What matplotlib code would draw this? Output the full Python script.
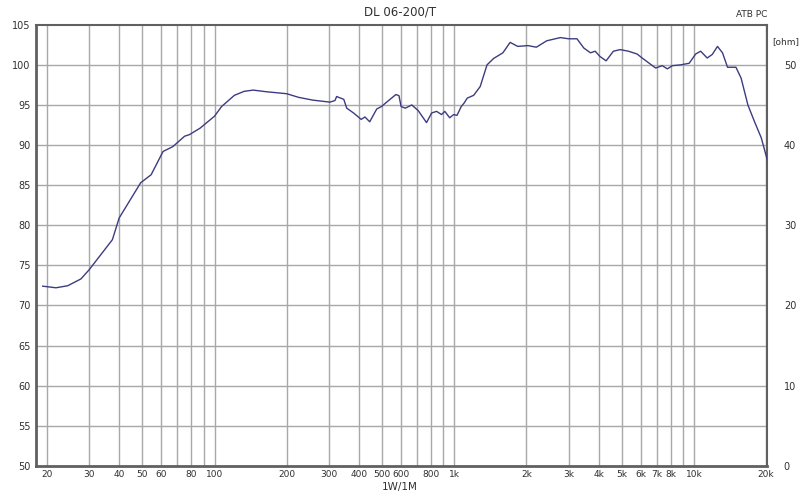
import matplotlib.pyplot as plt
from matplotlib.ticker import FixedLocator, NullLocator

# Frequenzgang DL 06-200/T (Hz, dB)
freq_hz = [19.2, 21.8, 24.4, 27.7, 30, 37.5, 40, 49.2, 54.4, 61, 67, 75, 78.6, 87,
           100, 107, 121, 133, 145, 164, 200, 224, 257, 303, 318, 323, 346, 356,
           380, 409, 424, 444, 475, 497, 520, 571, 588, 600, 625, 665, 707, 766,
           805, 844, 885, 913, 957, 994, 1027, 1069, 1097, 1133, 1205, 1283, 1370,
           1460, 1595, 1710, 1840, 2030, 2200, 2430, 2770, 3000, 3250, 3470, 3700,
           3870, 4050, 4300, 4610, 4920, 5330, 5790, 6080, 6920, 7370, 7740, 8130,
           8810, 9550, 10160, 10660, 11350, 11920, 12530, 13150, 13800, 14960,
           15720, 16780, 17890, 19080, 20380]
spl_db = [72.4, 72.2, 72.45, 73.3, 74.45, 78.2, 80.9, 85.3, 86.3, 89.2, 89.8, 91.1, 91.3, 92.1,
          93.6, 94.8, 96.2, 96.7, 96.85, 96.65, 96.4, 95.95, 95.6, 95.35, 95.55, 96.05, 95.7, 94.6,
          94.0, 93.2, 93.5, 92.9, 94.5, 94.8, 95.3, 96.3, 96.15, 94.8, 94.6, 95.0, 94.3, 92.8,
          94.0, 94.2, 93.8, 94.2, 93.4, 93.8, 93.7, 94.8, 95.2, 95.85, 96.2, 97.3, 100.0,
          100.8, 101.5, 102.8, 102.3, 102.4, 102.2, 103.0, 103.4, 103.25, 103.25, 102.1, 101.5,
          101.7, 101.05, 100.5, 101.7, 101.9, 101.7, 101.35, 100.85, 99.6, 99.9, 99.5, 99.9,
          100.0, 100.2, 101.35, 101.7, 100.85, 101.3, 102.3, 101.5, 99.7, 99.7,
          98.35, 95.0, 92.9, 90.9, 87.75]

# Achsenbeschriftung
grid_freqs = [20, 30, 40, 50, 60, 70, 80, 90, 100, 200, 300, 400, 500, 600, 700, 800, 900,
              1000, 2000, 3000, 4000, 5000, 6000, 7000, 8000, 9000, 10000, 20000]
label_freqs = [20, 30, 40, 50, 60, 80, 100, 200, 300, 400, 500, 600, 800, 1000,
               2000, 3000, 4000, 5000, 6000, 7000, 8000, 10000, 20000]
label_texts = ['20', '30', '40', '50', '60', '80', '100', '200', '300', '400', '500', '600',
               '800', '1k', '2k', '3k', '4k', '5k', '6k', '7k', '8k', '10k', '20k']
db_ticks = [50, 55, 60, 65, 70, 75, 80, 85, 90, 95, 100, 105]
ohm_ticks = [0, 10, 20, 30, 40, 50]

grid_color = '#a8a8a8'
frame_color = '#606060'
text_color = '#303030'

fig = plt.figure(figsize=(8, 4.95), dpi=100)
ax = fig.add_axes([0.045, 0.059, 0.914, 0.891])

ax.plot(freq_hz, spl_db, color='#3c3c80', linewidth=1.0, zorder=3)

ax.set_xscale('log')
ax.set_xlim(18, 20200)
ax.set_ylim(50, 105)

# Gitter von Hand, damit nur die gewuenschten Linien erscheinen
for f in grid_freqs:
    ax.axvline(f, color=grid_color, linewidth=1.0, zorder=1)
for d in db_ticks[1:-1]:
    ax.axhline(d, color=grid_color, linewidth=1.0, zorder=1)

ax.xaxis.set_major_locator(FixedLocator(label_freqs))
ax.xaxis.set_minor_locator(NullLocator())
ax.set_xticklabels(label_texts)
ax.set_yticks(db_ticks)
ax.tick_params(axis='x', length=0, labelsize=6.5, colors=text_color, pad=3)
ax.tick_params(axis='y', length=0, labelsize=7, colors=text_color, pad=4)

for side in ['left', 'bottom']:
    ax.spines[side].set_color(frame_color)
    ax.spines[side].set_linewidth(2.0)
for side in ['top', 'right']:
    ax.spines[side].set_color(frame_color)
    ax.spines[side].set_linewidth(1.5)

# Rechte Achse: Impedanz
ax2 = ax.twinx()
ax2.set_ylim(0, 55)
ax2.set_yticks(ohm_ticks)
ax2.tick_params(axis='y', length=0, labelsize=7, colors=text_color, pad=12)
for side in ax2.spines:
    ax2.spines[side].set_visible(False)

fig.text(0.5, 0.975, 'DL 06-200/T', ha='center', va='center', fontsize=8.5, color=text_color)
fig.text(0.959, 0.970, 'ATB PC', ha='right', va='center', fontsize=6.5, color=text_color)
fig.text(0.982, 0.915, '[ohm]', ha='center', va='center', fontsize=6.5, color=text_color)
fig.text(0.5, 0.016, '1W/1M', ha='center', va='center', fontsize=7.5, color=text_color)

plt.savefig('out.png', dpi=100)
plt.close()
